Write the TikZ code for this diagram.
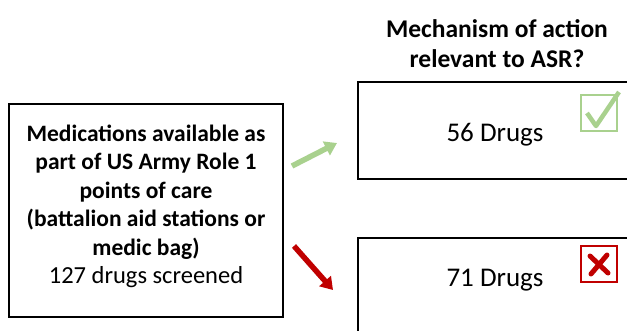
\documentclass[tikz,border=0pt]{standalone}
\usepackage{fontspec}
\setmainfont{Carlito}
\usepackage{tikz}
\usepackage{xcolor}
\usetikzlibrary{arrows.meta}
\definecolor{okgreen}{HTML}{A9D18E}
\definecolor{nored}{HTML}{C00000}
\tikzstyle{box} = [rectangle, draw, line width=1.5pt, inner sep=0pt]
\tikzstyle{boxtext} = [align=center, font=\fontsize{23.5}{28.5}\selectfont]
\tikzstyle{count} = [font=\fontsize{27}{30}\selectfont]
\tikzstyle{flow} = [-{Triangle[length=12pt,width=15pt]}, line width=5.5pt]

\begin{document}
\begin{tikzpicture}[x=1pt,y=-1pt]
  \clip (0,0) rectangle (627,330);
  \fill[white] (0,0) rectangle (627,330);
  % title
  \node[boxtext, font=\fontsize{25.5}{30}\selectfont\bfseries] (title) at (497,44) {Mechanism of action\\relevant to ASR?};
  % boxes
  \node[box, minimum width=274pt, minimum height=213pt] (meds) at (146,210.5) {};
  \node[boxtext] (medstext) at (146,206.5) {\textbf{Medications available as}\\\textbf{part of US Army Role 1}\\\textbf{points of care}\\\textbf{(battalion aid stations or}\\\textbf{medic bag)}\\{\fontsize{24.5}{28.5}\selectfont 127 drugs screened}};
  \node[box, minimum width=290pt, minimum height=97pt] (yes) at (503,130.5) {};
  \node[box, minimum width=290pt, minimum height=110pt] (no) at (503,293) {};
  \node[count] (yestext) at (495,135) {56 Drugs};
  \node[count] (notext) at (495,280) {71 Drugs};
  % icons
  \node[rectangle, draw=okgreen, line width=2.5pt, minimum size=36pt] (tick) at (599,113) {};
  \draw[okgreen, line width=4.5pt, line join=round] (587,113) -- (596,126) -- (619,92);
  \node[rectangle, draw=nored, line width=2.5pt, minimum size=36pt] (cross) at (599,264) {};
  \draw[nored, line width=5pt, line cap=round] (590,256) -- (608,273);
  \draw[nored, line width=5pt, line cap=round] (607,255) -- (591,274);
  % arrows
  \coordinate (ys) at (292,166);
  \coordinate (ye) at (337,143);
  \coordinate (ns) at (294,246);
  \coordinate (ne) at (333,290);
  \path[okgreen] (ys) edge[flow] (ye);
  \path[nored] (ns) edge[flow] (ne);
\end{tikzpicture}
\end{document}
